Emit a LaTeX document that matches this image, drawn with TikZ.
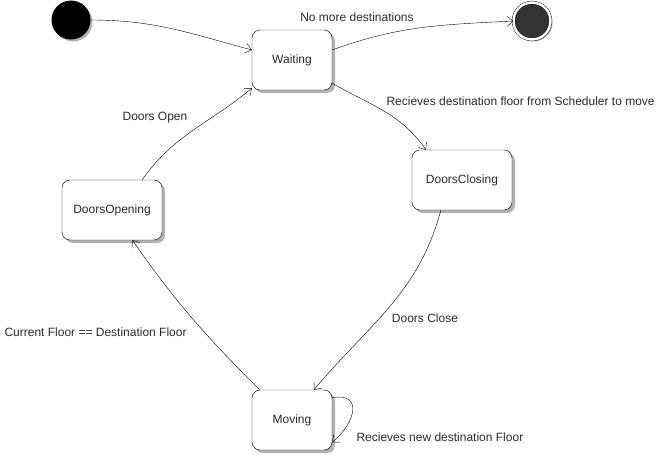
\documentclass[tikz,border=0pt]{standalone}
\usepackage{fontspec}
\setmainfont{Liberation Sans}
\usetikzlibrary{shadows,arrows.meta}
\definecolor{labelgray}{RGB}{40,40,65}
\begin{document}
\begin{tikzpicture}[x=1pt,y=-1pt,font=\fontsize{12}{14}\selectfont,
  every node/.style={text=labelgray},
  state/.style={draw, rounded corners=8pt, fill=white, minimum width=80pt, minimum height=60pt, inner sep=0pt,
    drop shadow={shadow xshift=3pt, shadow yshift=-3pt, fill=black!30, opacity=1}},
  trans/.style={-{Straight Barb[length=6pt,width=10pt]}, thin}]
\useasboundingbox (0,0) rectangle (665,455);
\node[circle, fill=black, minimum size=39pt, inner sep=0pt,
  drop shadow={shadow xshift=2pt, shadow yshift=-2pt, fill=black!30, opacity=1}] (init) at (71,20) {};
\node[circle, draw, double, double distance=2.5pt, fill=black!80, minimum size=37pt, inner sep=0pt,
  drop shadow={shadow xshift=2pt, shadow yshift=-2pt, fill=black!30, opacity=1}] (final) at (532,21) {};
\node[state] (waiting) at (292,60) {Waiting};
\node[state, minimum width=100pt] (closing) at (462,180) {DoorsClosing};
\node[state, minimum width=100pt] (opening) at (112,210) {DoorsOpening};
\node[state] (moving) at (292,420) {Moving};
\draw[trans] (init.east) to[out=0, in=165] (waiting.166);
\draw[trans] (waiting.14) to[out=20, in=183] (final.west);
\draw[trans] (waiting.-30) to[out=-30, in=125] (closing.140);
\draw[trans] (closing.-125) to[out=-105, in=50] (moving.54);
\draw[trans] (moving.137) to[out=135, in=-55] (opening.-56);
\draw[trans] (opening.45) to[out=55, in=-140] (waiting.-145);
\draw[trans] (moving.29) to[out=10, in=40, looseness=1.8] (moving.-29);
\node (lnomore) at (357,17) {No more destinations};
\node[anchor=west] (lrecv) at (383,101) {Recieves destination floor from Scheduler to move};
\node (lclose) at (425,318) {Doors Close};
\node[anchor=west] (lcurrent) at (1,332) {Current Floor == Destination Floor};
\node (lopen) at (155,118) {Doors Open};
\node[anchor=west] (lnew) at (353,437) {Recieves new destination Floor};
\end{tikzpicture}
\end{document}
